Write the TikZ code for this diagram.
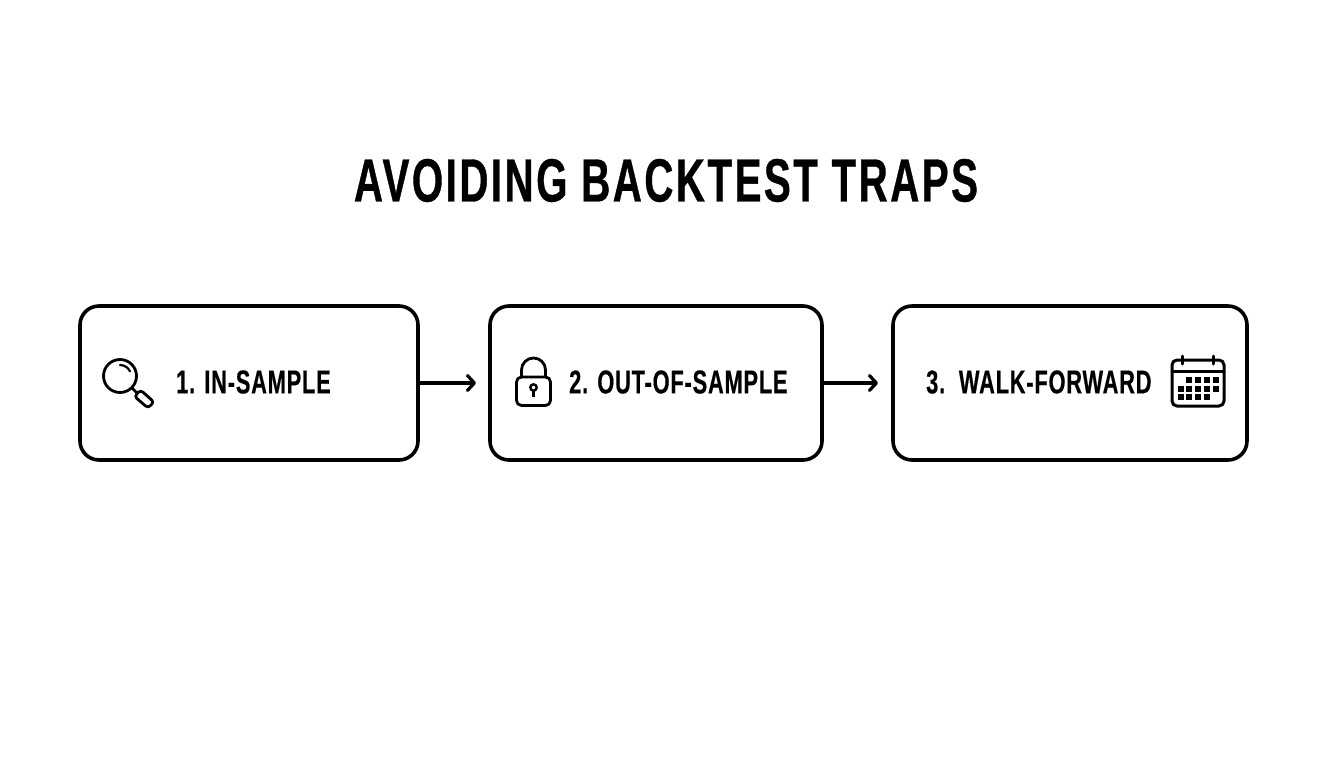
\documentclass[tikz,border=0pt]{standalone}
\usepackage{fontspec}
\setmainfont{Liberation Sans}
\newfontfamily\titlefont[FakeStretch=0.66,LetterSpace=4.1,BoldFeatures={FakeBold=0.6}]{Liberation Sans}
\newfontfamily\labelfont[FakeStretch=0.66,LetterSpace=2.5,BoldFeatures={FakeBold=0.4}]{Liberation Sans}
\usetikzlibrary{arrows.meta}
\tikzset{
  x=1pt,y=-1pt,
  stage/.style={draw=black,line width=3.6pt,rounded corners=19pt,fill=white,inner sep=0pt},
  label/.style={inner sep=0pt,font=\labelfont\bfseries\fontsize{33}{36}\selectfont,text=black},
  heading/.style={inner sep=0pt,font=\titlefont\bfseries\fontsize{61}{64}\selectfont,text=black},
  link/.style={line width=3.2pt,-{Straight Barb[length=7pt,width=15pt,line width=3.2pt,round]}},
  icon/.style={line width=2.8pt,line cap=round,line join=round},
  cell/.style={fill=black,minimum size=5.5pt,inner sep=0pt},
}
\begin{document}
\begin{tikzpicture}
\useasboundingbox (0,0) rectangle (1344,768);
\node[heading] (title) at (666,180.5) {AVOIDING BACKTEST TRAPS};
\node[stage,minimum width=338pt,minimum height=154pt] (b1) at (249,383) {};
\node[stage,minimum width=332pt,minimum height=154pt] (b2) at (656,383) {};
\node[stage,minimum width=354pt,minimum height=154pt] (b3) at (1070,383) {};
\node[label,anchor=west] (t1) at (176,382) {1. IN-SAMPLE};
\node[label,anchor=west] (t2) at (569,382) {2. OUT-OF-SAMPLE};
\node[label,anchor=west] (t3) at (926,382) {3.\ \ WALK-FORWARD};
\coordinate (e1) at (476,383);
\coordinate (e2) at (878,383);
\draw[link] (b1.east) -- (e1);
\draw[link] (b2.east) -- (e2);
% magnifier
\draw[icon] (120,376) circle (16.5);
\draw[icon,line width=2.2pt] (120,365) arc[start angle=-90,end angle=-25,radius=11];
\draw[icon] (132,388) -- (137,393);
\draw[icon,rounded corners=3pt] (134.5,396.5) -- (140.5,390) -- (154,402) -- (148,408) -- cycle;
% lock
\draw[icon,rounded corners=5pt] (516.5,377) rectangle (550.5,405.5);
\draw[icon] (521.5,377) -- (521.5,370) arc[start angle=180,end angle=360,radius=12] -- (545.5,377);
\draw[icon,line width=2.4pt] (533.5,387.5) circle (3.2);
\draw[icon,line width=3.2pt,line cap=butt] (533.5,390) -- (533.5,396.5);
% calendar
\draw[icon,line width=3pt,rounded corners=5pt] (1172,360) rectangle (1224,406);
\draw[icon,line width=3pt] (1172,371) -- (1224,371);
\draw[icon,line width=3pt] (1182,356) -- (1182,364);
\draw[icon,line width=3pt] (1213,356) -- (1213,364);
\foreach \cx in {1189,1198,1207,1216} \node[cell] at (\cx,380) {};
\foreach \cx in {1181,1189,1198,1207,1216} \node[cell] at (\cx,389) {};
\foreach \cx in {1181,1189,1198,1207} \node[cell] at (\cx,397) {};
\end{tikzpicture}
\end{document}
